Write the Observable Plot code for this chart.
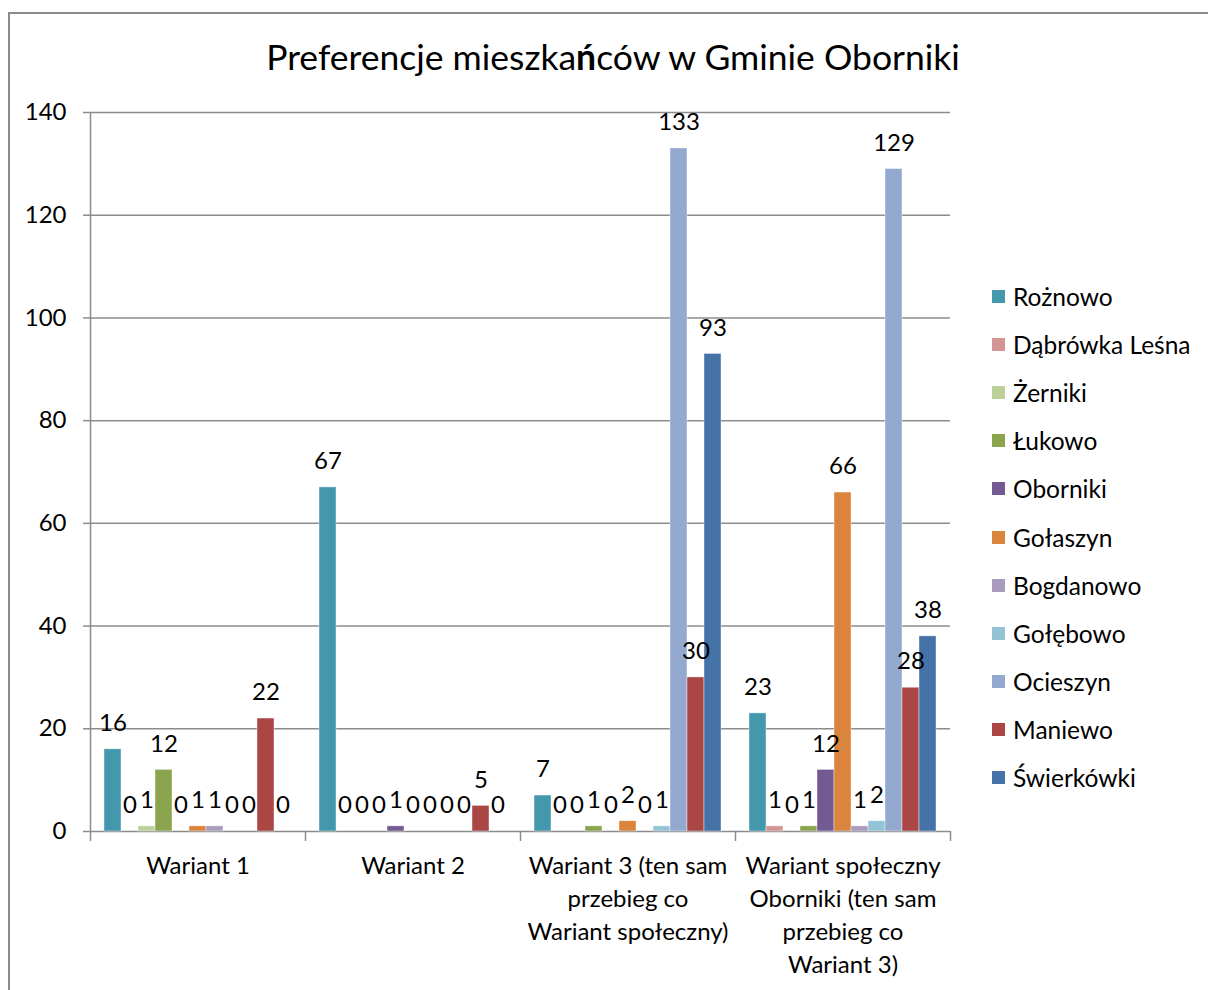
<!DOCTYPE html>
<html>
<head>
<meta charset="utf-8">
<script src="https://cdn.jsdelivr.net/npm/d3@7"></script>
<script src="https://cdn.jsdelivr.net/npm/@observablehq/plot@0.6"></script>
<style>
  html, body { margin: 0; padding: 0; background: #fff; width: 1208px; height: 990px; overflow: hidden; }
  body { position: relative; font-family: Lato, "Open Sans", sans-serif; color: #000; }
  #frame { position: absolute; left: 8px; top: 12px; width: 1400px; height: 1200px; border: 2px solid #8c8c8c; box-sizing: border-box; }
  #title { position: absolute; left: 0; top: 34px; width: 1226px; text-align: center; font-size: 35.5px; line-height: 46px; white-space: nowrap; }
  #title b { font-weight: 700; }
  #chart { position: absolute; left: 0; top: 0; }
  #legend { position: absolute; left: 992px; top: 272px; }
  .item { height: 48.2px; display: flex; align-items: center; font-size: 24.5px; white-space: nowrap; }
  .sw { width: 13px; height: 13px; margin-right: 8px; flex: none; }
</style>
</head>
<body>
<div id="frame"></div>
<div id="title">Preferencje mieszka<b>ń</b>ców w Gminie Oborniki</div>
<div id="chart"></div>
<div id="legend"></div>
<script>
// ---- data ----
const groups = [
  "Wariant 1",
  "Wariant 2",
  "Wariant 3 (ten sam\nprzebieg co\nWariant społeczny)",
  "Wariant społeczny\nOborniki (ten sam\nprzebieg co\nWariant 3)"
];
const series = ["Rożnowo", "Dąbrówka Leśna", "Żerniki", "Łukowo", "Oborniki", "Gołaszyn",
                "Bogdanowo", "Gołębowo", "Ocieszyn", "Maniewo", "Świerkówki"];
const colors = ["#4398ae", "#d69595", "#bcd09a", "#8ba54f", "#735a92", "#db843d",
                "#a99bbe", "#93c4d6", "#94a9d0", "#aa4644", "#4572a7"];
const wariant1 = [16, 0, 1, 12, 0, 1, 1, 0, 0, 22, 0];
const wariant2 = [67, 0, 0, 0, 1, 0, 0, 0, 0, 5, 0];
const wariant3 = [7, 0, 0, 1, 0, 2, 0, 1, 133, 30, 93];
const wariantSpoleczny = [23, 1, 0, 1, 12, 66, 1, 2, 129, 28, 38];
const yTicks = [0, 20, 40, 60, 80, 100, 120, 140];

const values = [wariant1, wariant2, wariant3, wariantSpoleczny];
const rows = [];
groups.forEach((g, gi) => series.forEach((s, si) => rows.push({group: g, gi, series: s, value: values[gi][si]})));

// position of each series inside a group (group width = 1 unit on x)
const inner = d3.scaleBand().domain(series).range([0, 1]).paddingInner(0).paddingOuter(14 / 17);
const bx1 = d => d.gi + inner(d.series);
const bx2 = d => d.gi + inner(d.series) + inner.bandwidth();
const bxc = d => d.gi + inner(d.series) + inner.bandwidth() / 2;

const grey = "#8c8c8c";
const font = "Lato, 'Open Sans', sans-serif";

const chart = Plot.plot({
  width: 1208,
  height: 990,
  marginLeft: 90,
  marginRight: 258,
  marginTop: 112,
  marginBottom: 159,
  style: {fontFamily: font, fontSize: "24px", color: "#000", background: "transparent", overflow: "visible"},
  x: {type: "linear", domain: [0, groups.length], axis: null},
  y: {domain: [0, 140], axis: null},
  color: {domain: series, range: colors},
  marks: [
    Plot.gridY(yTicks, {stroke: grey, strokeOpacity: 1, strokeWidth: 1.5}),
    Plot.axisY(yTicks, {tickSize: 7, tickPadding: 17, stroke: grey, strokeWidth: 1.5, fill: "#000", fontSize: 24, label: null, tickFormat: d => String(d)}),
    Plot.ruleX([0], {stroke: grey, strokeWidth: 1.5}),
    Plot.axisX(d3.range(groups.length + 1), {tickSize: 10, stroke: grey, strokeWidth: 1.5, tickFormat: () => "", label: null}),
    Plot.text(groups, {x: (d, i) => i + 0.5, frameAnchor: "bottom", lineAnchor: "top", dy: 19, text: d => d, lineHeight: 1.38, fontSize: 24, fill: "#000"}),
    Plot.rect(rows, {x1: bx1, x2: bx2, y1: 0, y2: "value", fill: "series", stroke: "white", strokeWidth: 0.6, strokeOpacity: 0.7}),
    Plot.text(rows, {x: bxc, y: "value", text: d => String(d.value), dy: -26, fontSize: 24, fill: "#000"})
  ]
});
document.getElementById("chart").appendChild(chart);

const legend = document.getElementById("legend");
series.forEach((s, i) => {
  const item = document.createElement("div");
  item.className = "item";
  const sw = document.createElement("span");
  sw.className = "sw";
  sw.style.background = colors[i];
  const t = document.createElement("span");
  t.textContent = s;
  item.appendChild(sw);
  item.appendChild(t);
  legend.appendChild(item);
});
</script>
</body>
</html>
